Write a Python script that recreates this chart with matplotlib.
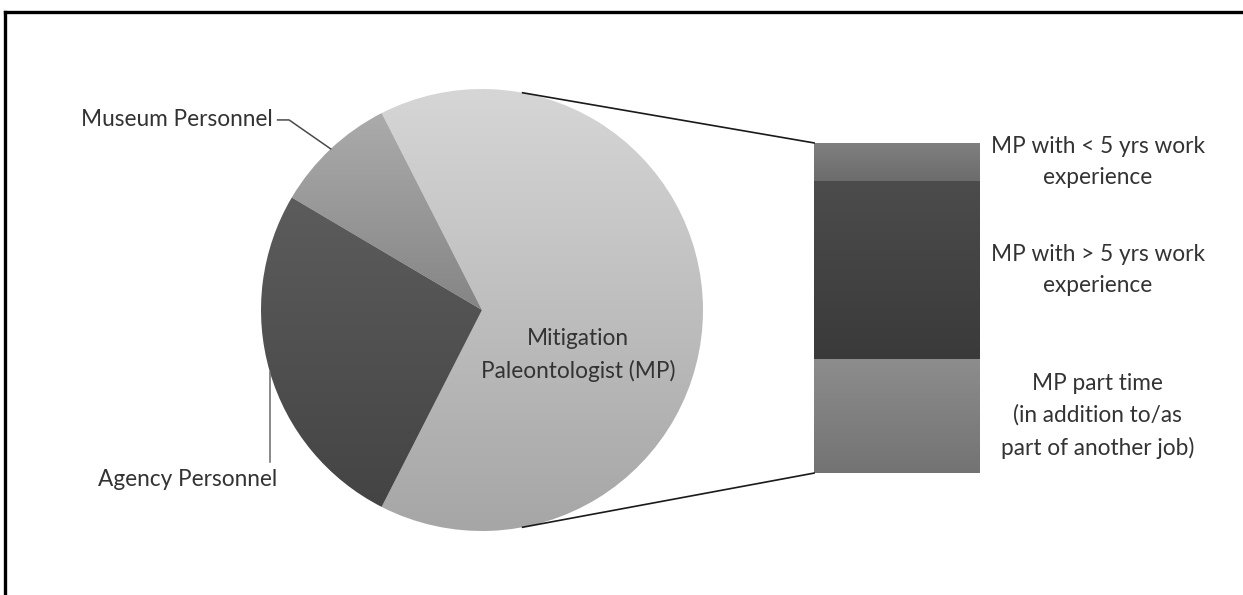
import numpy as np
import matplotlib
matplotlib.use("Agg")
import matplotlib.pyplot as plt
from matplotlib.colors import LinearSegmentedColormap
from matplotlib.lines import Line2D

plt.rcParams['font.family'] = ['Lato', 'DejaVu Sans']

# pie slices (percent of respondents)
pie_labels = ["Mitigation\nPaleontologist (MP)", "Museum Personnel", "Agency Personnel"]
pie_values = [65, 9, 26]
# MP slice split (bar, bottom to top)
bar_labels = ["MP part time\n(in addition to/as\npart of another job)",
              "MP with > 5 yrs work\nexperience",
              "MP with < 5 yrs work\nexperience"]
bar_values = [22.5, 35, 7.5]

# gradients (top colour, bottom colour)
pie_grad = [("#d6d6d6", "#a6a6a6"), ("#ababab", "#858585"), ("#5c5c5c", "#444444")]
bar_grad = [("#8d8d8d", "#737373"), ("#4c4c4c", "#3a3a3a"), ("#808080", "#6c6c6c")]
txt_col = "#333333"
fs = 16.3

W, H = 1243, 595
R_PX = 221.0
CX, CY = 482, 310  # pie centre in pixels from top-left

fig = plt.figure(figsize=(W / 100, H / 100), dpi=100)
ax = fig.add_axes([0, 0, 1, 1])
ax.set_axis_off()


def set_limits():
    ax.set_xlim(-CX / R_PX, (W - CX) / R_PX)
    ax.set_ylim(-(H - CY) / R_PX, CY / R_PX)
    ax.set_aspect("equal")


def gradient_fill(patch, top, bottom):
    bb = patch.get_path().get_extents(patch.get_patch_transform())
    cmap = LinearSegmentedColormap.from_list("g", [top, bottom])
    grad = np.linspace(0, 1, 256).reshape(-1, 1)
    im = ax.imshow(grad, cmap=cmap, extent=(bb.x0, bb.x1, bb.y0, bb.y1),
                   origin="upper", aspect="auto", zorder=patch.get_zorder())
    im.set_clip_path(patch)
    patch.set_facecolor("none")


mp_angle = pie_values[0] / sum(pie_values) * 360
wedges, _ = ax.pie(pie_values, startangle=-mp_angle / 2, counterclock=True,
                   radius=1, center=(0, 0), wedgeprops=dict(linewidth=0))
for w, (t, b) in zip(wedges, pie_grad):
    gradient_fill(w, t, b)

# stacked bar for the MP breakdown
bar_x, bar_w = 1.878, 0.751
bar_total = 1.494
scale = bar_total / sum(bar_values)
bar_bottom = -0.738
bottoms = bar_bottom + scale * np.concatenate([[0], np.cumsum(bar_values)[:-1]])
bars = ax.bar([bar_x] * 3, np.array(bar_values) * scale, width=bar_w,
              bottom=bottoms, linewidth=0)
for p, (t, b) in zip(bars, bar_grad):
    gradient_fill(p, t, b)

for lab, b0, v in zip(bar_labels, bottoms, bar_values):
    ax.text(2.787, b0 + v * scale / 2, lab, ha="center", va="center",
            fontsize=fs, color=txt_col, linespacing=1.6)

# connector lines pie -> bar
ang = np.deg2rad(79.4)
ax.plot([np.cos(ang), bar_x - bar_w / 2], [np.sin(ang), bottoms[-1] + bar_values[-1] * scale],
        color="#1a1a1a", lw=1.2, zorder=5)
ax.plot([np.cos(ang), bar_x - bar_w / 2], [-np.sin(ang), bar_bottom],
        color="#1a1a1a", lw=1.2, zorder=5)

# labels
ax.text(0.434, -0.204, pie_labels[0], ha="center", va="center",
        fontsize=fs, color=txt_col, linespacing=1.6, zorder=6)

mids = [np.deg2rad((w.theta1 + w.theta2) / 2) for w in wedges]
# museum personnel
mx, my = np.cos(mids[1]), np.sin(mids[1])
ty = 0.860
ax.plot([-0.925, -0.873, mx], [ty, ty, my], color="#4a4a4a", lw=1.1, zorder=6)
ax.text(-0.945, ty, pie_labels[1], ha="right", va="center", fontsize=fs, color=txt_col)
# agency personnel
ax_, ay = np.cos(mids[2]), np.sin(mids[2])
ax.plot([ax_, ax_], [ay, -0.688], color="#6a6a6a", lw=1.1, zorder=6)
ax.text(-1.333, -0.769, pie_labels[2], ha="center", va="center", fontsize=fs, color=txt_col)

set_limits()

# cropped frame: top and left edges only
fig.add_artist(Line2D([4.5 / W, 1], [1 - 11.5 / H, 1 - 11.5 / H], color="black", lw=2.4))
fig.add_artist(Line2D([4.5 / W, 4.5 / W], [0, 1 - 11.5 / H], color="black", lw=2.4))

fig.savefig("out.png", dpi=100)
